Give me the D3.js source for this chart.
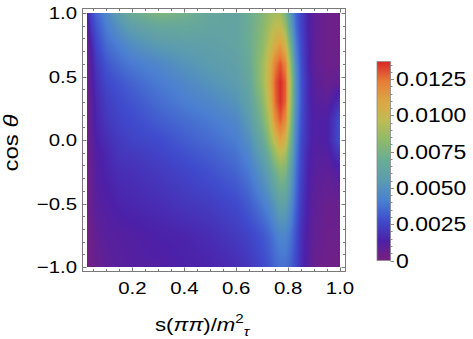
<!DOCTYPE html>
<html><head><meta charset="utf-8">
<script src="https://cdn.jsdelivr.net/npm/d3@7"></script>
<style>body{margin:0;background:#fff}svg{display:block}text{font-family:"Liberation Sans",Arial,sans-serif;fill:#000}</style>
</head><body><svg id="c" width="473" height="339"></svg>
<script>
// grid of s(ππ)/m_τ² values (columns)
const sGrid = [0.025,0.04,0.06,0.1,0.15,0.2,0.3,0.4,0.5,0.6,0.65,0.7,0.725,0.75,0.77,0.79,0.81,0.83,0.85,0.875,0.9,0.95,1.0];
// grid of cos θ values (rows)
const cGrid = [-1,-0.75,-0.5,-0.25,-0.1,0,0.15,0.3,0.45,0.6,0.75,0.9,1];
// density values, in units of 1e-4, one row per cos θ
const zE4 = [
 [1,3,5,8,10,11,12,14,15,18,21,26,29,34,37,37,33,26,18,11,5,3,3],
 [1,4,7,10,11,12,14,15,18,22,25,30,34,40,44,44,38,29,19,12,7,4,4],
 [1,5,10,12,15,16,18,21,23,27,32,40,45,53,60,59,48,34,22,14,8,5,5],
 [1,5,11,15,18,19,22,25,29,34,40,51,59,71,79,77,58,38,25,15,10,8,12],
 [1,7,12,16,21,22,25,29,33,38,45,59,70,87,97,91,67,41,26,16,11,11,22],
 [1,7,14,18,22,25,27,32,36,41,49,65,80,100,111,104,73,43,27,18,12,13,29],
 [1,8,15,21,25,27,32,36,40,45,55,74,90,117,128,118,82,46,29,18,12,13,28],
 [1,8,16,23,27,30,36,41,45,51,60,80,98,126,136,127,88,50,30,18,11,9,19],
 [1,10,18,26,30,34,40,45,51,56,64,86,103,128,137,128,90,50,30,18,10,5,8],
 [1,11,21,30,36,40,45,51,56,59,67,86,101,122,130,120,83,46,29,16,8,4,4],
 [3,14,25,36,42,48,55,58,59,62,69,82,94,107,113,102,71,41,27,16,8,4,3],
 [7,21,30,41,51,59,66,66,63,62,69,79,88,96,97,85,58,36,25,15,8,4,3],
 [14,25,34,45,58,69,77,73,64,62,69,78,85,89,89,75,52,34,25,15,8,4,3]
];
const zMax = 0.0137;
const xTicks = [0.2,0.4,0.6,0.8,1.0];
const yTicks = [-1,-0.5,0,0.5,1];
const cbTicks = [0,0.0025,0.005,0.0075,0.01,0.0125];
const cbLabels = ["0","0.0025","0.0050","0.0075","0.0100","0.0125"];
const rainbow = ['#78207f','#4c20a8','#3f4bcd','#4a7fd2','#5b9bb0','#6aab95','#8cb96c','#bcbd52','#dca743','#e77d36','#d82727'];

const svg = d3.select('#c');
const x = d3.scaleLinear().domain([0.025,1]).range([87,340]);
const y = d3.scaleLinear().domain([-1,1]).range([267,13]);
const color = d3.scaleLinear().domain(rainbow.map((_,i)=>i/(rainbow.length-1)*zMax)).range(rainbow).clamp(true);

// density image
const W = 253, H = 254;
const cv = document.createElement('canvas'); cv.width=W; cv.height=H;
const ctx = cv.getContext('2d'); const img = ctx.createImageData(W,H);
function interp(s,c){
  let i = Math.min(Math.max(d3.bisectRight(sGrid,s)-1,0),sGrid.length-2);
  let j = Math.min(Math.max(d3.bisectRight(cGrid,c)-1,0),cGrid.length-2);
  const u = Math.max(0,Math.min(1,(s-sGrid[i])/(sGrid[i+1]-sGrid[i])));
  const v = Math.max(0,Math.min(1,(c-cGrid[j])/(cGrid[j+1]-cGrid[j])));
  const z = zE4[j][i]*(1-u)*(1-v)+zE4[j][i+1]*u*(1-v)+zE4[j+1][i]*(1-u)*v+zE4[j+1][i+1]*u*v;
  return z*1e-4;
}
for(let py=0;py<H;py++){for(let px=0;px<W;px++){
  const s = x.invert(87+px+0.5), c = y.invert(13+py+0.5);
  const col = d3.rgb(color(interp(s,c)));
  const k=(py*W+px)*4; img.data[k]=col.r; img.data[k+1]=col.g; img.data[k+2]=col.b; img.data[k+3]=255;
}}
ctx.putImageData(img,0,0);
svg.append('image').attr('x',87).attr('y',13).attr('width',W).attr('height',H).attr('href',cv.toDataURL());

// frame
const fx0=82,fx1=345,fy0=8,fy1=271;
svg.append('rect').attr('x',fx0+0.5).attr('y',fy0+0.5).attr('width',fx1-fx0).attr('height',fy1-fy0).attr('fill','none').attr('stroke','#7a7a7a');
const tk = svg.append('g').attr('stroke','#7a7a7a').attr('stroke-width',1);
d3.range(1,21).map(d=>d*0.05).forEach(v=>{const major = xTicks.some(t=>Math.abs(t-v)<1e-6); const L = major?4:2.5; const px=Math.round(x(v))+0.5;
  tk.append('line').attr('x1',px).attr('x2',px).attr('y1',fy1+0.5).attr('y2',fy1+0.5-L);
  tk.append('line').attr('x1',px).attr('x2',px).attr('y1',fy0+0.5).attr('y2',fy0+0.5+L);});
d3.range(-10,11).map(d=>d/10).forEach(v=>{const major = yTicks.some(t=>Math.abs(t-v)<1e-6); const L = major?4:2.5; const py=Math.round(y(v))+0.5;
  tk.append('line').attr('y1',py).attr('y2',py).attr('x1',fx0+0.5).attr('x2',fx0+0.5+L);
  tk.append('line').attr('y1',py).attr('y2',py).attr('x1',fx1+0.5).attr('x2',fx1+0.5-L);});

// tick labels (wide glyphs as in reference)
const fmt = v => (v<0?'\u2212':'')+Math.abs(v).toFixed(1);
const SX = 1.2;
svg.append('g').selectAll('text').data(xTicks).join('text')
  .attr('transform',d=>`translate(${x(d)},294) scale(${SX},1)`).attr('text-anchor','middle').attr('font-size',17).text(fmt);
svg.append('g').selectAll('text').data(yTicks).join('text')
  .attr('transform',d=>`translate(77,${y(d)+6}) scale(${SX},1)`).attr('text-anchor','end').attr('font-size',17).text(fmt);

// axis titles
const xt = svg.append('text').attr('transform','translate(155,331) scale(1.17,1)').attr('font-size',19);
xt.append('tspan').text('s(');
xt.append('tspan').attr('font-style','italic').text('ππ');
xt.append('tspan').text(')/');
xt.append('tspan').attr('font-style','italic').text('m');
xt.append('tspan').attr('font-size',13).attr('dy',-8).text('2');
xt.append('tspan').attr('font-size',13).attr('font-style','italic').attr('dy',13).text('τ');
const yt = svg.append('text').attr('transform','translate(18,143) rotate(-90) scale(1.2,1)').attr('text-anchor','middle').attr('font-size',20);
yt.append('tspan').text('cos ');
yt.append('tspan').attr('font-style','italic').text('θ');

// colorbar
const cb = d3.scaleLinear().domain([0,zMax]).range([260.5,61.6]);
const defs = svg.append('defs');
const grad = defs.append('linearGradient').attr('id','g').attr('x1',0).attr('y1',1).attr('x2',0).attr('y2',0);
d3.range(0,1.0001,0.02).forEach(t=>grad.append('stop').attr('offset',t).attr('stop-color',color(t*zMax)));
svg.append('rect').attr('x',377).attr('y',cb(zMax)).attr('width',13.5).attr('height',cb(0)-cb(zMax)).attr('fill','url(#g)').attr('stroke','#8a8a8a').attr('stroke-width',0.8);
const cbt = svg.append('g').attr('stroke','#8a8a8a');
d3.range(0,28).map(d=>d*0.0005).forEach(v=>{ if(v>zMax) return; const major = Math.round(v*10000)%25===0; const py=Math.round(cb(v))+0.5;
  cbt.append('line').attr('x1',390.5).attr('x2',390.5+(major?3.5:2)).attr('y1',py).attr('y2',py);});
svg.append('g').selectAll('text').data(cbTicks).join('text')
  .attr('transform',d=>`translate(396,${cb(d)+7}) scale(1.12,1)`).attr('font-size',20.5).text((d,i)=>cbLabels[i]);
</script></body></html>
